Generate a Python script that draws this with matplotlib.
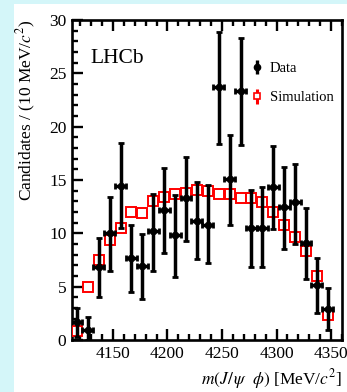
import matplotlib
matplotlib.use("Agg")
import matplotlib.pyplot as plt
from matplotlib.patches import Rectangle
from matplotlib.ticker import MultipleLocator

plt.rcParams['font.family'] = ['Liberation Serif', 'DejaVu Serif']
plt.rcParams['mathtext.fontset'] = 'stix'

# bin centres in MeV/c^2 (10 MeV bins)
mass = [4117, 4127, 4137, 4147, 4157, 4167, 4177, 4187, 4197, 4207, 4217, 4227,
        4237, 4247, 4257, 4267, 4277, 4287, 4297, 4307, 4317, 4327, 4337, 4347]

data_counts = [1.7, 0.9, 6.8, 10.0, 14.4, 7.7, 6.9, 10.2, 12.2, 9.8, 13.3, 11.2,
               10.8, 23.7, 15.1, 23.3, 10.5, 10.5, 14.3, 12.5, 12.9, 9.1, 5.2, 2.9]
data_err_lo = [1.4, 0.9, 2.8, 3.5, 3.9, 3.2, 3.1, 3.7, 4.0, 3.9, 4.0, 3.6,
               3.6, 5.3, 4.3, 5.0, 3.7, 3.7, 3.9, 4.0, 3.9, 3.4, 2.7, 2.0]
data_err_hi = [1.3, 1.3, 2.8, 3.4, 4.1, 3.1, 3.0, 3.5, 3.9, 3.8, 3.9, 3.6,
               3.7, 5.2, 4.1, 5.0, 3.6, 3.8, 3.9, 3.7, 3.6, 3.3, 2.5, 2.0]

sim_counts = [0.85, 5.0, 7.5, 9.4, 10.5, 12.0, 11.9, 13.0, 13.4, 13.7, 13.75, 14.1,
              14.0, 13.7, 13.7, 13.3, 13.3, 12.9, 12.0, 10.8, 9.7, 8.3, 6.0, 2.3]

half_bin = 5

fig = plt.figure(figsize=(3.47, 3.92), dpi=100)
fig.patch.set_facecolor('#d4f6f9')
fig.patches.append(Rectangle((14 / 347, 0), 1, 1 - 4 / 392, transform=fig.transFigure,
                             facecolor='white', edgecolor='none', zorder=-10))

ax = fig.add_axes([72 / 347, 1 - 340 / 392, 270 / 347, 320 / 392])
ax.set_facecolor('white')

# simulation: open red squares with bin-width bars
ax.errorbar(mass, sim_counts, xerr=half_bin, fmt='s', ms=6.5, mfc='white', mec='red',
            mew=1.4, ecolor='red', elinewidth=2.8, capsize=0, zorder=3)
# data points on top
ax.errorbar(mass, data_counts, yerr=[data_err_lo, data_err_hi], xerr=half_bin, fmt='o',
            ms=4.5, color='black', elinewidth=2.5, capsize=2.5, capthick=2.0, zorder=4)

# legend entries (drawn outside the visible range)
h_data = ax.errorbar([0], [-10], yerr=[1], fmt='o', ms=4.5, color='black', elinewidth=2.4)
h_sim = ax.errorbar([0], [-10], yerr=[1], fmt='s', ms=4.5, mfc='white', mec='red',
                    mew=1.2, ecolor='red', elinewidth=2.2)

ax.set_xlim(4112.5, 4360)
ax.set_ylim(0, 30)

ax.xaxis.set_major_locator(MultipleLocator(50))
ax.xaxis.set_minor_locator(MultipleLocator(10))
ax.yaxis.set_major_locator(MultipleLocator(5))
ax.yaxis.set_minor_locator(MultipleLocator(1))
ax.tick_params(which='both', direction='in', top=True, right=False, width=1.7,
               labelsize=12.5, pad=4)
ax.tick_params(which='major', length=8)
ax.tick_params(which='minor', length=4)
for sp in ax.spines.values():
    sp.set_linewidth(1.9)

ax.set_ylabel('Candidates / (10 MeV/$c^2$)', fontsize=12.5, loc='top', labelpad=8)
ax.set_xlabel(r'$m(J/\,\psi\ \ \phi)$ [MeV/$c^2$]', fontsize=12.5, loc='right', labelpad=4)

ax.text(0.07, 0.88, 'LHCb', transform=ax.transAxes, fontsize=15.5, va='center')

ax.legend([h_data, h_sim], ['Data', 'Simulation'], loc='upper left',
          bbox_to_anchor=(0.62, 0.91), frameon=False, fontsize=10.5,
          handlelength=0.6, handletextpad=0.6, labelspacing=1.1)

fig.savefig('out.png', dpi=100, facecolor=fig.get_facecolor())
